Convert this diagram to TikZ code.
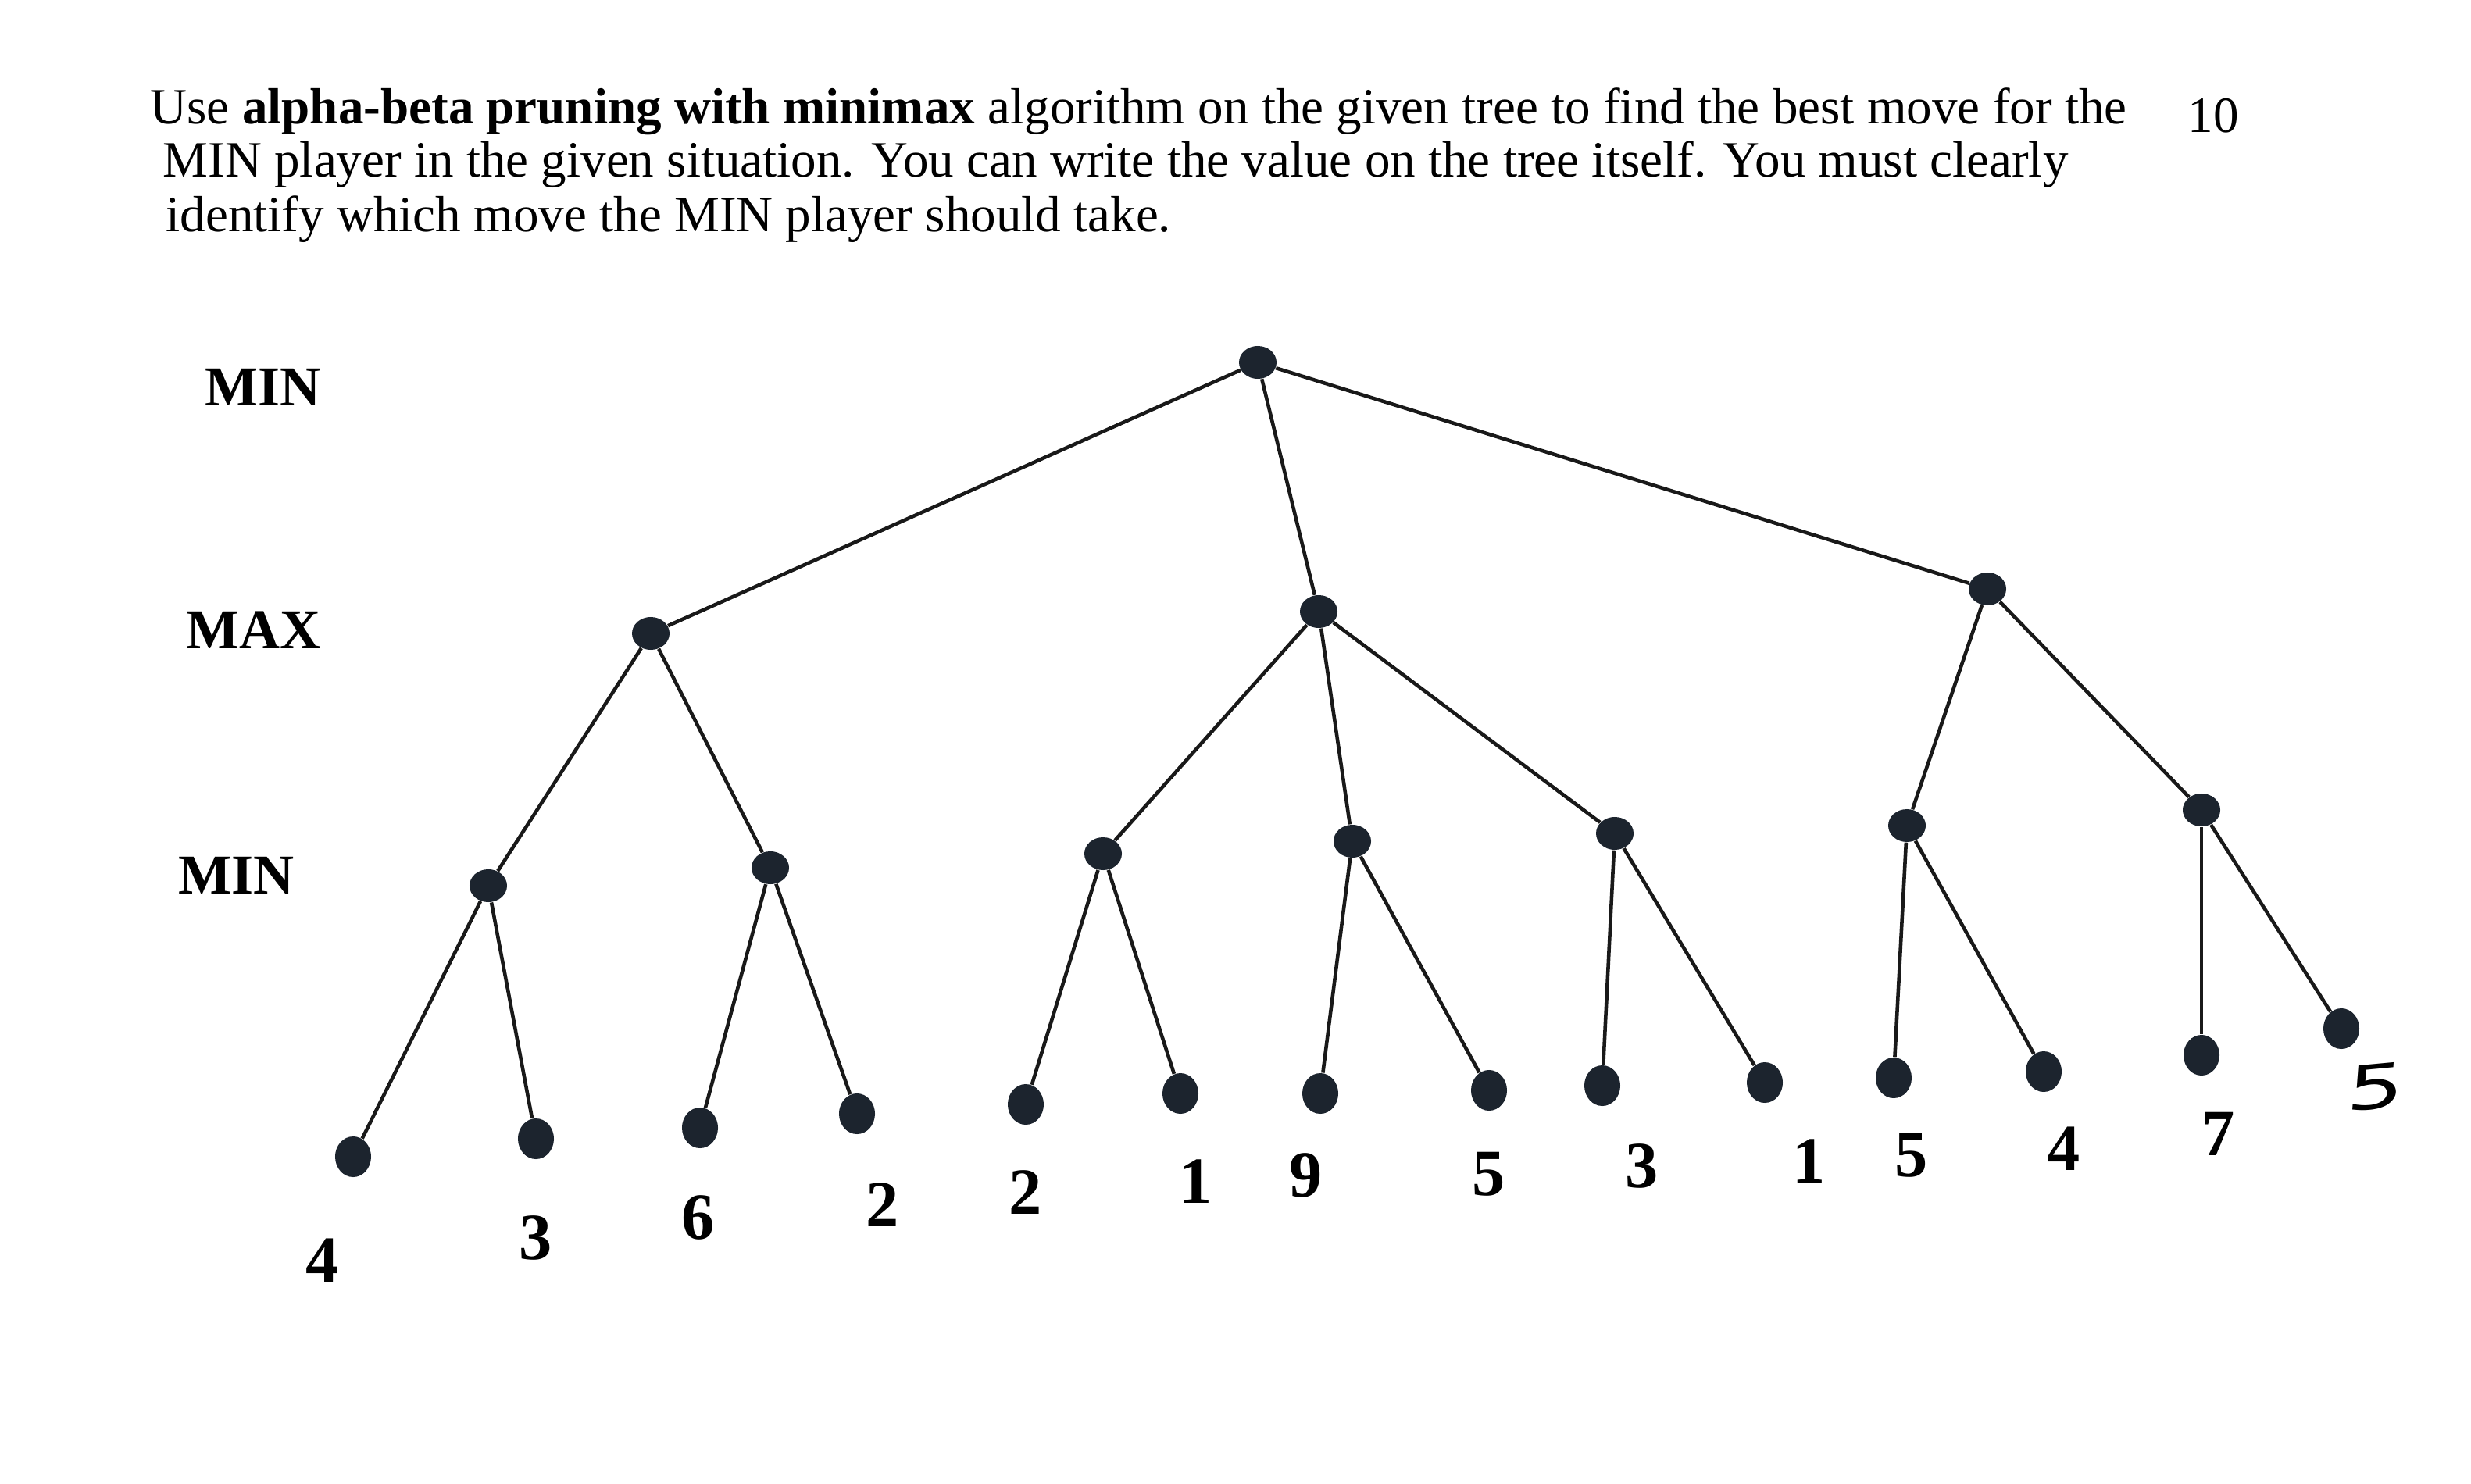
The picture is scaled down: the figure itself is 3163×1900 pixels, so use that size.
\documentclass[tikz,border=0pt]{standalone}
\usepackage{fontspec}
\setmainfont{Liberation Serif}
\newfontfamily\handfont{DejaVu Sans}
\usepackage{tikz}
\usetikzlibrary{shapes.geometric}
\definecolor{dotcolor}{RGB}{28, 36, 46}
\tikzset{
  treenode/.style={ellipse, fill=dotcolor, draw=none, inner sep=0pt, minimum width=0.48cm, minimum height=0.42cm},
  leafnode/.style={treenode, minimum width=0.46cm, minimum height=0.52cm},
  branch/.style={line width=1.3pt, black!90},
  playerlabel/.style={font=\fontsize{20.5}{23}\selectfont\bfseries, anchor=west, inner sep=0pt},
  leafvalue/.style={font=\fontsize{24}{26}\selectfont\bfseries, inner sep=0pt},
  question/.style={font=\fontsize{18.5}{22}\selectfont, anchor=base west, inner sep=0pt}
}

\begin{document}
\begin{tikzpicture}[x=0.01cm, y=-0.01cm]
    \useasboundingbox (0, 0) rectangle (3163, 1900);

    % Question text
    \node[question] (q1) at (192, 159) {Use \textbf{alpha-beta pruning with minimax} algorithm on the given tree to find the best move for the};
    \node[question] (q2) at (208, 226) {MIN player in the given situation. You can write the value on the tree itself. You must clearly};
    \node[question] (q3) at (212, 296) {identify which move the MIN player should take.};
    \node[question] (marks) at (2800, 170) {10};

    % Player labels
    \node[playerlabel] (lmin1) at (262, 496) {MIN};
    \node[playerlabel] (lmax) at (238, 807) {MAX};
    \node[playerlabel] (lmin2) at (228, 1121) {MIN};

    % Root (MIN)
    \node[treenode] (root) at (1610, 464) {};

    % MAX level
    \node[treenode] (a) at (833, 811) {};
    \node[treenode] (b) at (1688, 783) {};
    \node[treenode] (c) at (2544, 754) {};

    % MIN level
    \node[treenode] (a1) at (625, 1134) {};
    \node[treenode] (a2) at (986, 1111) {};
    \node[treenode] (b1) at (1412, 1093) {};
    \node[treenode] (b2) at (1731, 1077) {};
    \node[treenode] (b3) at (2067, 1067) {};
    \node[treenode] (c1) at (2441, 1057) {};
    \node[treenode] (c2) at (2818, 1037) {};

    % Leaves
    \node[leafnode] (a1l) at (452, 1481) {};
    \node[leafnode] (a1r) at (686, 1458) {};
    \node[leafnode] (a2l) at (896, 1444) {};
    \node[leafnode] (a2r) at (1097, 1426) {};
    \node[leafnode] (b1l) at (1313, 1414) {};
    \node[leafnode] (b1r) at (1511, 1400) {};
    \node[leafnode] (b2l) at (1690, 1400) {};
    \node[leafnode] (b2r) at (1906, 1396) {};
    \node[leafnode] (b3l) at (2051, 1390) {};
    \node[leafnode] (b3r) at (2259, 1386) {};
    \node[leafnode] (c1l) at (2424, 1380) {};
    \node[leafnode] (c1r) at (2616, 1372) {};
    \node[leafnode] (c2l) at (2818, 1351) {};
    \node[leafnode] (c2r) at (2997, 1317) {};

    % Branches
    \draw[branch] (root) -- (a);
    \draw[branch] (root) -- (b);
    \draw[branch] (root) -- (c);
    \draw[branch] (a) -- (a1);
    \draw[branch] (a) -- (a2);
    \draw[branch] (b) -- (b1);
    \draw[branch] (b) -- (b2);
    \draw[branch] (b) -- (b3);
    \draw[branch] (c) -- (c1);
    \draw[branch] (c) -- (c2);
    \draw[branch] (a1) -- (a1l);
    \draw[branch] (a1) -- (a1r);
    \draw[branch] (a2) -- (a2l);
    \draw[branch] (a2) -- (a2r);
    \draw[branch] (b1) -- (b1l);
    \draw[branch] (b1) -- (b1r);
    \draw[branch] (b2) -- (b2l);
    \draw[branch] (b2) -- (b2r);
    \draw[branch] (b3) -- (b3l);
    \draw[branch] (b3) -- (b3r);
    \draw[branch] (c1) -- (c1l);
    \draw[branch] (c1) -- (c1r);
    \draw[branch] (c2) -- (c2l);
    \draw[branch] (c2) -- (c2r);

    % Leaf values
    \node[leafvalue] (va1l) at (413, 1614) {4};
    \node[leafvalue] (va1r) at (686, 1585) {3};
    \node[leafvalue] (va2l) at (894, 1559) {6};
    \node[leafvalue] (va2r) at (1130, 1543) {2};
    \node[leafvalue] (vb1l) at (1313, 1527) {2};
    \node[leafvalue] (vb1r) at (1531, 1513) {1};
    \node[leafvalue] (vb2l) at (1672, 1505) {9};
    \node[leafvalue] (vb2r) at (1906, 1503) {5};
    \node[leafvalue] (vb3l) at (2102, 1493) {3};
    \node[leafvalue] (vb3r) at (2316, 1487) {1};
    \node[leafvalue] (vc1l) at (2447, 1479) {5};
    \node[leafvalue] (vc1r) at (2642, 1471) {4};
    \node[leafvalue] (vc2l) at (2840, 1452) {7};
    \node[font=\fontsize{22}{24}\selectfont\handfont\itshape, inner sep=0pt, xscale=1.5, rotate=8] (vc2r) at (3040, 1392) {5};
\end{tikzpicture}
\end{document}
